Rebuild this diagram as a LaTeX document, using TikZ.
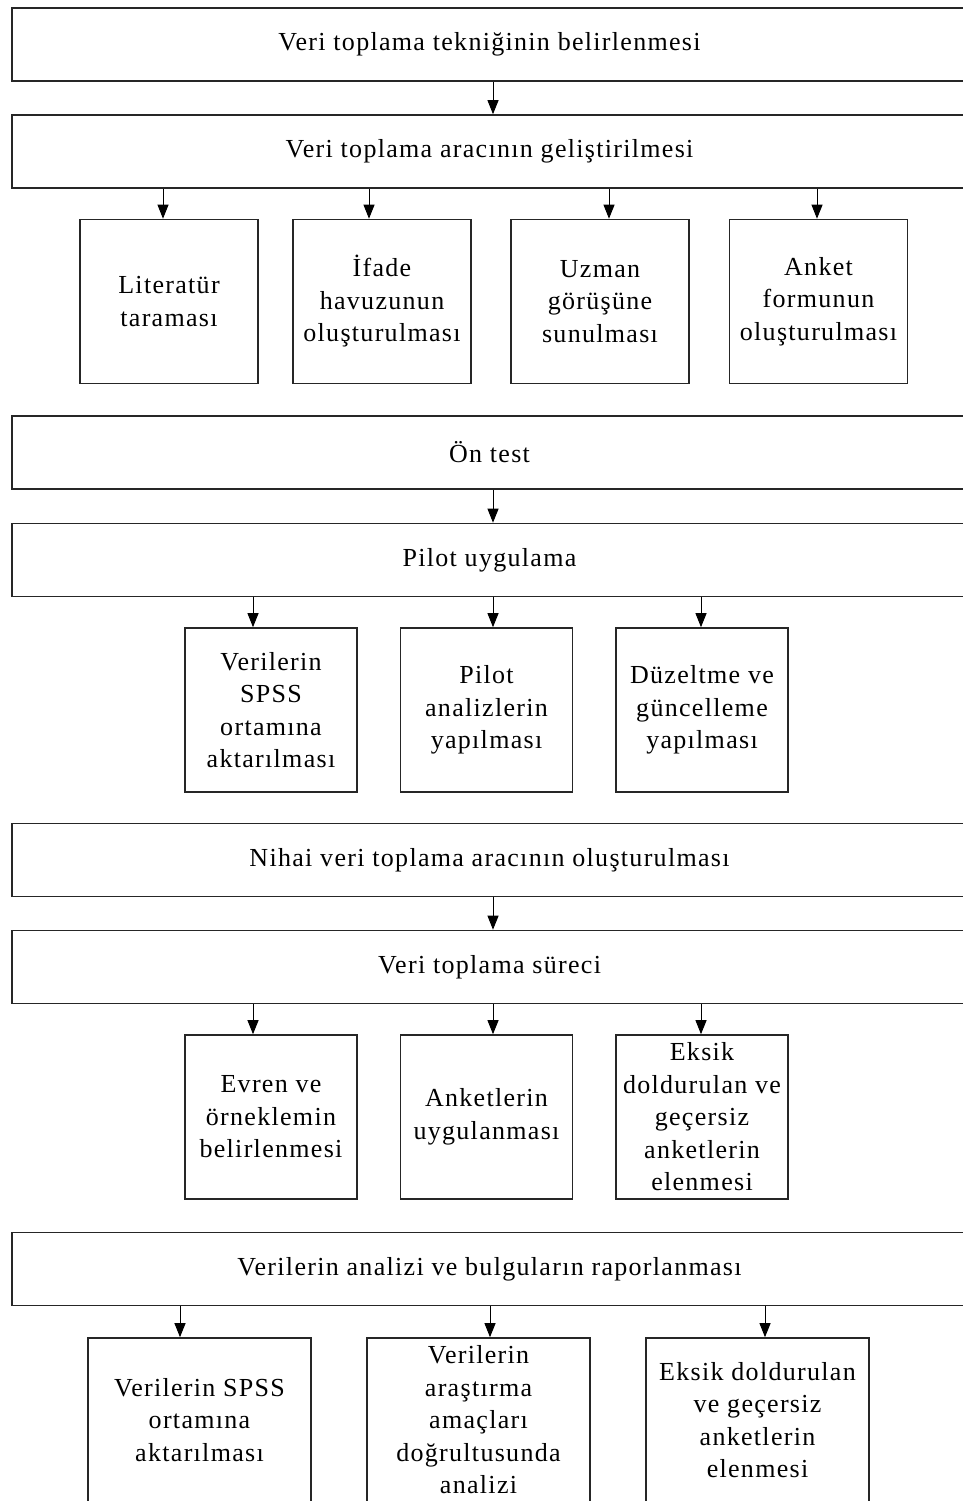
\documentclass[tikz,border=0pt]{standalone}
\usepackage{fontspec}
\setmainfont{Liberation Serif}[LetterSpace=5]
\usetikzlibrary{arrows.meta,positioning}

\tikzset{
  stagebox/.style={draw=black!85,line width=1.6pt,minimum width=955pt,minimum height=73pt,inner sep=0pt},
  taskbox/.style={draw=black!85,line width=1.6pt,minimum height=164pt,inner sep=0pt,align=center},
  flowarrow/.style={-{Triangle[length=14pt,width=11pt]},line width=0.9pt},
}

\begin{document}
\begin{tikzpicture}[x=1pt,y=-1pt,font=\fontsize{26}{32.5}\selectfont]
    \useasboundingbox (0,0) rectangle (962,1501);
    \fill[white] (0,0) rectangle (962,1501);
    % main stages
    \node[stagebox] (tech) at (489.5,44.5) {Veri toplama tekniğinin belirlenmesi};
    \node[stagebox] (dev) at (489.5,151.5) {Veri toplama aracının geliştirilmesi};
    \node[stagebox] (pre) at (489.5,452.5) {Ön test};
    \node[stagebox] (pilot) at (489.5,560) {Pilot uygulama};
    \node[stagebox] (final) at (489.5,860) {Nihai veri toplama aracının oluşturulması};
    \node[stagebox] (coll) at (489.5,967) {Veri toplama süreci};
    \node[stagebox] (anal) at (489.5,1269) {Verilerin analizi ve bulguların raporlanması};
    % first row
    \node[taskbox,minimum width=178pt] (lit) at (169,301.5) {Literatür\\taraması};
    \node[taskbox,minimum width=178pt] (pool) at (382,301.5) {İfade\\havuzunun\\oluşturulması};
    \node[taskbox,minimum width=178pt] (expert) at (600,301.5) {Uzman\\görüşüne\\sunulması};
    \node[taskbox,minimum width=178pt] (form) at (818.5,301.5) {Anket\\formunun\\oluşturulması};
    % pilot row
    \node[taskbox,minimum width=172pt] (spss) at (271,710) {Verilerin\\SPSS\\ortamına\\aktarılması};
    \node[taskbox,minimum width=172pt] (panal) at (486.5,710) {Pilot\\analizlerin\\yapılması};
    \node[taskbox,minimum width=172pt] (fix) at (702,710) {Düzeltme ve\\güncelleme\\yapılması};
    % collection row
    \node[taskbox,minimum width=172pt] (pop) at (271,1117) {Evren ve\\örneklemin\\belirlenmesi};
    \node[taskbox,minimum width=172pt] (apply) at (486.5,1117) {Anketlerin\\uygulanması};
    \node[taskbox,minimum width=172pt] (elim) at (702,1117) {Eksik\\doldurulan ve\\geçersiz\\anketlerin\\elenmesi};
    % analysis row
    \node[taskbox,minimum width=223pt] (spss2) at (199.5,1420) {Verilerin SPSS\\ortamına\\aktarılması};
    \node[taskbox,minimum width=223pt] (aim) at (478.5,1420) {Verilerin\\araştırma\\amaçları\\doğrultusunda\\analizi};
    \node[taskbox,minimum width=223pt] (elim2) at (757.5,1420) {Eksik doldurulan\\ve geçersiz\\anketlerin\\elenmesi};

    \draw[flowarrow] ([xshift=3.5pt]tech.south) -- ([xshift=3.5pt]dev.north);
    \draw[flowarrow] ([xshift=3.5pt]pre.south) -- ([xshift=3.5pt]pilot.north);
    \draw[flowarrow] ([xshift=3.5pt]final.south) -- ([xshift=3.5pt]coll.north);
    \foreach \n/\dx in {lit/-6,pool/-13,expert/9,form/-1.5}
      \draw[flowarrow] ([xshift=\dx pt]\n.north |- dev.south) -- ([xshift=\dx pt]\n.north);
    \foreach \n/\dx in {spss/-18,panal/6.5,fix/-1}
      \draw[flowarrow] ([xshift=\dx pt]\n.north |- pilot.south) -- ([xshift=\dx pt]\n.north);
    \foreach \n/\dx in {pop/-18,apply/6.5,elim/-1}
      \draw[flowarrow] ([xshift=\dx pt]\n.north |- coll.south) -- ([xshift=\dx pt]\n.north);
    \foreach \n/\dx in {spss2/-19.5,aim/11.5,elim2/7.5}
      \draw[flowarrow] ([xshift=\dx pt]\n.north |- anal.south) -- ([xshift=\dx pt]\n.north);
\end{tikzpicture}
\end{document}
